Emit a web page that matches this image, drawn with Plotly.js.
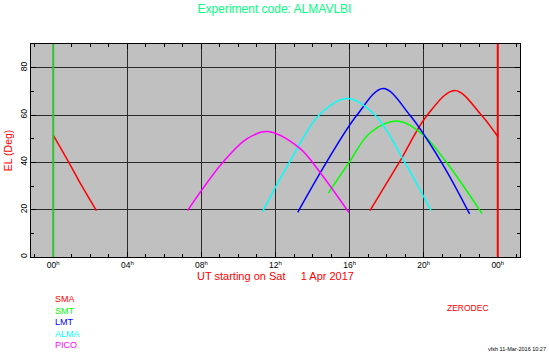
<!DOCTYPE html>
<html>
<head>
<meta charset="utf-8">
<script src="https://cdn.plot.ly/plotly-3.0.1.min.js"></script>
<style>
html,body{margin:0;padding:0;background:#ffffff;}
#chart{width:549px;height:352px;}
</style>
</head>
<body>
<div id="chart"></div>
<script>
// ---- data ----
const stations = ['SMA', 'SMT', 'LMT', 'ALMA', 'PICO'];
const stationColors = ['#ff0000', '#00ff00', '#0000ff', '#00ffff', '#ff00ff'];

const smaHoursA = [0, 0.84, 1.56, 2.33];
const smaElevA  = [51.5, 40, 29.8, 19.6];
const smaHoursB = [17.1, 18.68, 20.2, 21.68, 23.11, 24];
const smaElevB  = [19.6, 40, 60, 70.4, 60, 50.9];

const smtHours = [14.85, 15.98, 17.1, 18.62, 19.97, 21.23, 23.15];
const smtElev  = [27, 40, 52.4, 57.4, 51.6, 40, 18.3];

const lmtHours = [13.2, 14.75, 16.4, 17.81, 19.25, 20.96, 22.48];
const lmtElev  = [18.9, 40, 60, 71.2, 60, 40, 18.2];

const almaHours = [11.29, 12.75, 14.36, 15.87, 17.37, 18.98, 20.4];
const almaElev  = [19.1, 40, 60, 67.0, 60, 40, 19.6];

const picoHours = [7.25, 9.16, 10.45, 11.56, 13.3, 14.4, 15.96];
const picoElev  = [19.6, 40, 49.9, 53.0, 46, 35.8, 18.8];

const tickHours  = [0, 4, 8, 12, 16, 20, 24];
const tickLabels = ['00', '04', '08', '12', '16', '20', '00'];
const elevTicks  = [0, 20, 40, 60, 80];

const startHour = 0;
const endHour = 24;

const titleText = 'Experiment code: ALMAVLBI';
const xTitleText = 'UT starting on Sat\u00a0\u00a0\u00a0\u00a0\u00a01 Apr 2017';
const yTitleText = 'EL (Deg)';
const sourceText = 'ZERODEC';
const stampText = 'vfsh 11-Mar-2016 10:27';

// ---- layout helpers ----
const W = 549, H = 352;
const M = {l: 31, r: 28.5, t: 44, b: 94.5};
const PW = W - M.l - M.r, PH = H - M.t - M.b;
const px = v => (v - M.l) / PW;
const py = v => (H - M.b - v) / PH;

const font = 'Liberation Sans, Arial, Helvetica, sans-serif';

function line(x, y, color) {
  return {
    x: x, y: y, type: 'scatter', mode: 'lines',
    line: {color: color, width: 1.5, shape: 'spline', smoothing: 1},
    showlegend: false, hoverinfo: 'skip'
  };
}

const traces = [
  line(smaHoursA, smaElevA, stationColors[0]),
  line(smaHoursB, smaElevB, stationColors[0]),
  line(smtHours, smtElev, stationColors[1]),
  line(lmtHours, lmtElev, stationColors[2]),
  line(almaHours, almaElev, stationColors[3]),
  line(picoHours, picoElev, stationColors[4])
];

const legendY = [299.7, 311.3, 322.7, 334.3, 345.7];
const annotations = stations.map((s, i) => ({
  text: s, xref: 'paper', yref: 'paper', x: px(53), y: py(legendY[i]),
  xanchor: 'left', yanchor: 'middle', showarrow: false,
  font: {family: font, size: 9, color: stationColors[i]}
}));
annotations.push({
  text: sourceText, xref: 'paper', yref: 'paper', x: px(445), y: py(308.3),
  xanchor: 'left', yanchor: 'middle', showarrow: false,
  font: {family: font, size: 8.5, color: '#ff0000'}
});
annotations.push({
  text: stampText, xref: 'paper', yref: 'paper', x: px(549), y: py(349.3),
  xanchor: 'right', yanchor: 'middle', showarrow: false,
  font: {family: font, size: 5.5, color: '#000000'}
});

const layout = {
  width: W, height: H,
  margin: M,
  paper_bgcolor: '#ffffff',
  plot_bgcolor: '#c0c0c0',
  showlegend: false,
  title: {
    text: titleText, x: 0.5, xanchor: 'center',
    y: 1 - 9 / H, yref: 'container', yanchor: 'middle',
    font: {family: font, size: 12, color: '#00ff80'}
  },
  xaxis: {
    range: [-1.2, 25.2],
    tickmode: 'array', tickvals: tickHours,
    ticktext: tickLabels.map(t => t + '<sup>h</sup>'),
    ticks: 'inside', ticklen: 5, tickwidth: 1, tickcolor: '#000',
    showline: true, linecolor: '#000', linewidth: 1, mirror: 'ticks',
    showgrid: true, gridcolor: '#2a2a2a', gridwidth: 1,
    zeroline: false,
    tickfont: {family: font, size: 8.5, color: '#000'},
    minor: {tickmode: 'linear', tick0: 0, dtick: 1, ticks: 'inside', ticklen: 3, tickcolor: '#000', showgrid: false},
    title: {text: xTitleText, standoff: 2, font: {family: font, size: 11, color: '#ff0000'}},
    automargin: false, fixedrange: true
  },
  yaxis: {
    range: [0, 90],
    tickmode: 'array', tickvals: elevTicks,
    tickangle: -90,
    ticks: 'inside', ticklen: 5, tickwidth: 1, tickcolor: '#000',
    showline: true, linecolor: '#000', linewidth: 1, mirror: 'ticks',
    showgrid: true, gridcolor: '#2a2a2a', gridwidth: 1,
    zeroline: false,
    tickfont: {family: font, size: 8.5, color: '#000'},
    minor: {tickmode: 'linear', tick0: 0, dtick: 10, ticks: 'inside', ticklen: 3, tickcolor: '#000', showgrid: false},
    title: {text: yTitleText, standoff: 3, font: {family: font, size: 10.5, color: '#ff0000'}},
    automargin: false, fixedrange: true
  },
  shapes: [
    {type: 'line', xref: 'x', yref: 'paper', x0: startHour, x1: startHour, y0: 0, y1: 1,
     line: {color: '#2ec42e', width: 2}},
    {type: 'line', xref: 'x', yref: 'paper', x0: endHour, x1: endHour, y0: 0, y1: 1,
     line: {color: '#ff0000', width: 2}}
  ],
  annotations: annotations
};

Plotly.newPlot('chart', traces, layout, {displayModeBar: false, staticPlot: true});
</script>
</body>
</html>
